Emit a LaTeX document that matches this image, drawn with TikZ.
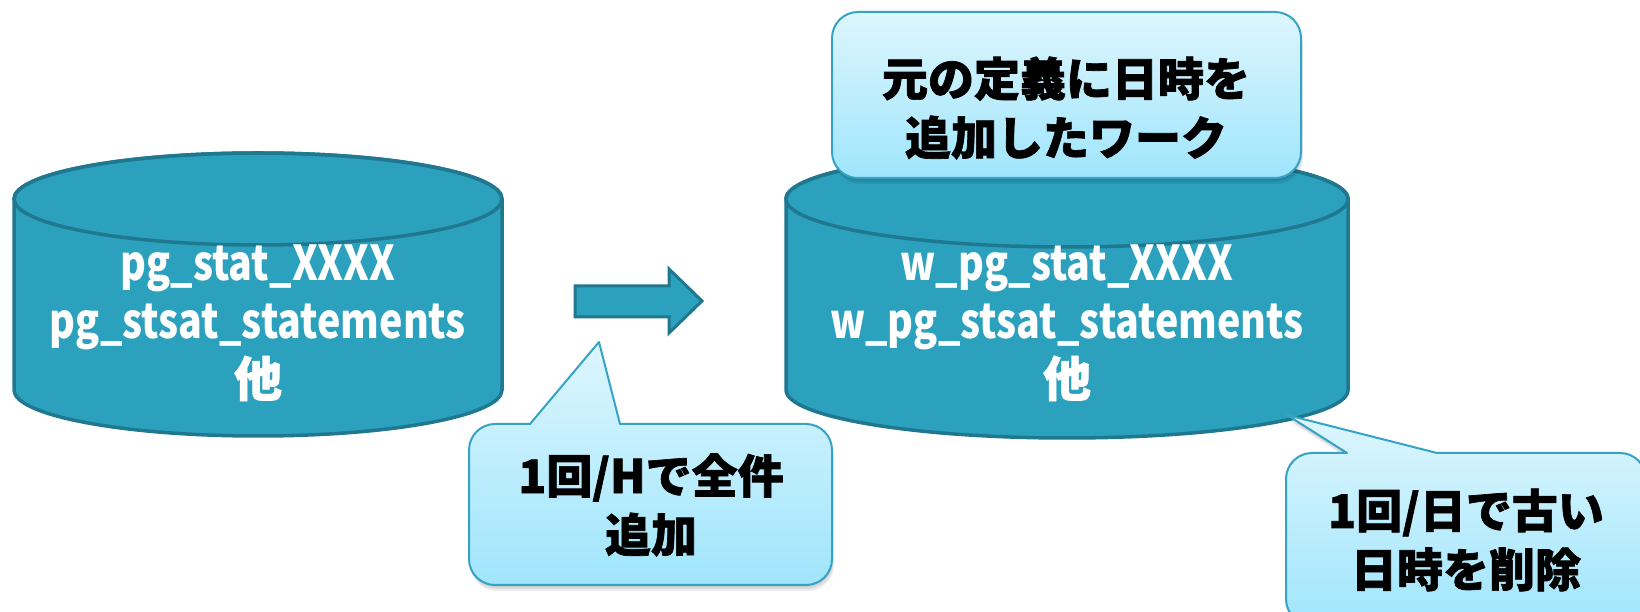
\documentclass[tikz,border=0pt]{standalone}
\usepackage{fontspec}
\newfontfamily\jp{Noto Sans CJK JP}[BoldFeatures={FakeBold=1.5}]
\newfontfamily\jpn{Noto Sans CJK JP}[FakeStretch=0.82]
\definecolor{cylfill}{RGB}{44,161,190}
\definecolor{cylline}{RGB}{31,120,143}
\definecolor{bubtop}{RGB}{221,246,254}
\definecolor{bubbot}{RGB}{160,229,252}
\definecolor{bubline}{RGB}{53,163,196}
% cylinder body: cx, rx, topY, botY, ry
\newcommand\cylpath[5]{({#1-#2},#3) -- ({#1-#2},#4) arc[start angle=180,end angle=360,x radius=#2,y radius=#5] -- ({#1+#2},#3) arc[start angle=0,end angle=180,x radius=#2,y radius=#5] -- cycle}
% callout: x1, y1 (bottom), x2, y2 (top), base left, base right, tip x, tip y
\newcommand\bubpath[8]{(#6,#4) -- ({#3-26},#4) arc[start angle=90,end angle=0,radius=26] -- (#3,{#2+26}) arc[start angle=0,end angle=-90,radius=26] -- ({#1+26},#2) arc[start angle=270,end angle=180,radius=26] -- (#1,{#4-26}) arc[start angle=180,end angle=90,radius=26] -- (#5,#4) -- (#7,#8) -- cycle}
\newcommand\jpother{{\jp\bfseries 他}}
\tikzset{
  cyl/.style={fill=cylfill,draw=cylline,line width=3.5pt,line join=round},
  blockarrow/.style={fill=cylfill,draw=cylline,line width=3pt,line join=miter},
  bubble/.style={top color=bubtop,bottom color=bubbot,draw=bubline,line width=2pt,line join=round},
  bubshadow/.style={fill=black,opacity=0.07},
  cyltext/.style={text=white,align=center,font={\jpn\bfseries\fontsize{48}{58}\selectfont},inner sep=0pt},
  bubtext/.style={text=black,align=center,font={\jp\bfseries\fontsize{46}{59}\selectfont},inner sep=0pt}
}
\begin{document}
\begin{tikzpicture}[x=1pt,y=1pt]
\useasboundingbox (0,0) rectangle (1640,612);
\clip (0,0) rectangle (1640,612);
% left cylinder
\path[cyl] \cylpath{258}{244}{413}{222}{46};
\draw[cyl,fill=none] (258,413) ellipse[x radius=244,y radius=46];
\node[cyltext] (src) at (258,289) {pg\_stat\_XXXX\\pg\_stsat\_statements\\\jpother};
% right cylinder
\path[cyl] \cylpath{1067}{281}{413}{222}{48};
\draw[cyl,fill=none] (1067,413) ellipse[x radius=281,y radius=48];
\node[cyltext] (dst) at (1067,289) {w\_pg\_stat\_XXXX\\w\_pg\_stsat\_statements\\\jpother};
% block arrow
\path[blockarrow] (575,326) -- (669,326) -- (669,343) -- (702,311) -- (669,279) -- (669,295) -- (575,295) -- cycle;
\coordinate (arrowpt) at (599,270);
\coordinate (dstpt) at (1287,197);
% top callout
\foreach \s in {2,4,6} {\fill[bubshadow,rounded corners=26] (832+\s/3,434-\s) rectangle (1301+\s/3,600-\s);}
\path[bubble,rounded corners=26] (832,434) rectangle (1301,600);
\node[bubtext] (work) at (1066,504) {元の定義に日時を\\追加したワーク};
% bottom middle callout
\foreach \s in {2,4,6} {\begin{scope}[shift={(\s/3,-\s)}]\fill[bubshadow] \bubpath{469}{27}{832}{188}{530}{620}{599}{270};\end{scope}}
\path[bubble] \bubpath{469}{27}{832}{188}{530}{620}{599}{270};
\node[bubtext] (hourly) at (651,107) {1回/Hで全件\\追加};
% bottom right callout
\foreach \s in {2,4,6} {\begin{scope}[shift={(\s/3,-\s)}]\fill[bubshadow] \bubpath{1286}{-13}{1646}{159}{1347}{1437}{1287}{197};\end{scope}}
\path[bubble] \bubpath{1286}{-13}{1646}{159}{1347}{1437}{1287}{197};
\node[bubtext] (daily) at (1466,72) {1回/日で古い\\日時を削除};
\end{tikzpicture}
\end{document}
